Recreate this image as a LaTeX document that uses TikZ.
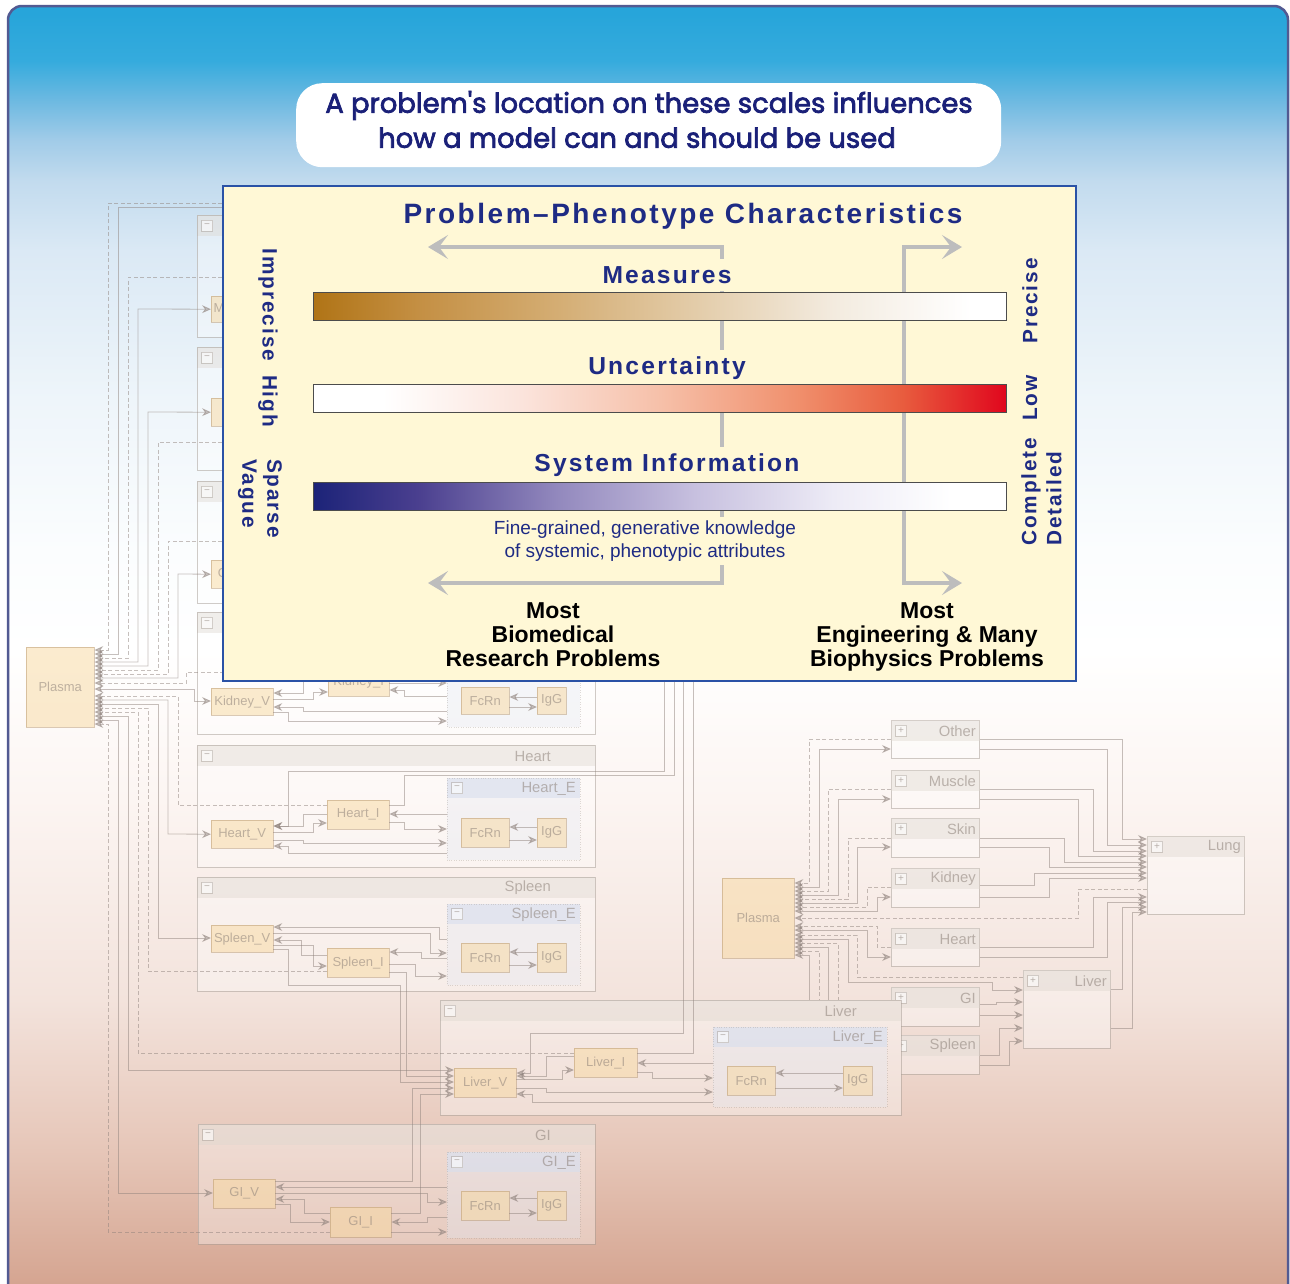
\documentclass[tikz,border=0pt]{standalone}
\usepackage{fontspec}
\setmainfont{Liberation Sans}
\newfontfamily\spc{Liberation Sans}[LetterSpace=9]
\newfontfamily\ttl{Poppins}[FakeBold=2.6]
\usetikzlibrary{arrows.meta}

\definecolor{navy}{HTML}{1E2B84}
\definecolor{ttlc}{HTML}{1A2078}
\definecolor{panelF}{HTML}{FFF8D6}
\definecolor{panelB}{HTML}{2A52A6}
\definecolor{bigG}{HTML}{BDBDBD}
\definecolor{frameC}{HTML}{525A92}
\definecolor{lnC}{HTML}{8F827C}
\definecolor{boxF}{HTML}{F8D9A0}
\definecolor{boxD}{HTML}{B89870}
\definecolor{txtC}{HTML}{8C8078}
\definecolor{cmpD}{HTML}{A39A92}
\definecolor{hdrF}{HTML}{DDD6CE}
\definecolor{subF}{HTML}{E4E8F2}
\definecolor{subH}{HTML}{D8DEEE}
% background
\definecolor{bg0}{HTML}{D29D88}
\definecolor{bg1}{HTML}{D5A591}
\definecolor{bg2}{HTML}{E6C6B8}
\definecolor{bg3}{HTML}{F3E3DC}
\definecolor{bg4}{HTML}{FCF5F2}
\definecolor{bg5}{HTML}{FBFDFE}
\definecolor{bg6}{HTML}{EEF5FA}
\definecolor{bg7}{HTML}{DBE9F5}
\definecolor{bg8}{HTML}{C2DBEE}
\definecolor{bg9}{HTML}{A0CBE8}
\definecolor{bg10}{HTML}{6CB9E1}
\definecolor{bg11}{HTML}{35ABDD}
\definecolor{bg12}{HTML}{27A5DA}
% bars
\definecolor{m0}{HTML}{B07416}
\definecolor{m1}{HTML}{C48F43}
\definecolor{m2}{HTML}{D4AD73}
\definecolor{m3}{HTML}{E3CCA9}
\definecolor{m4}{HTML}{F3EBDF}
\definecolor{u1}{HTML}{FBE4DC}
\definecolor{u2}{HTML}{F6C0A9}
\definecolor{u3}{HTML}{F08F6C}
\definecolor{u4}{HTML}{E85C3E}
\definecolor{u5}{HTML}{E0061D}
\definecolor{s0}{HTML}{1C2378}
\definecolor{s1}{HTML}{4A3F8F}
\definecolor{s2}{HTML}{9288BD}
\definecolor{s3}{HTML}{C7C0DF}
\definecolor{s4}{HTML}{EDEBF6}

\pgfdeclareverticalshading{bgshade}{100bp}{color(0bp)=(bg0); color(25bp)=(bg0); color(26bp)=(bg1); color(31.1bp)=(bg2); color(36.9bp)=(bg3); color(44.6bp)=(bg4); color(50.3bp)=(white); color(54.1bp)=(bg5); color(59.9bp)=(bg6); color(65.6bp)=(bg7); color(68.3bp)=(bg8); color(69.9bp)=(bg9); color(71.4bp)=(bg10); color(72.9bp)=(bg11); color(74.7bp)=(bg12); color(100bp)=(bg12)}
\pgfdeclarehorizontalshading{measS}{100bp}{color(0bp)=(m0); color(25bp)=(m0); color(32.5bp)=(m1); color(42.5bp)=(m2); color(52.5bp)=(m3); color(62.5bp)=(m4); color(72.5bp)=(white); color(100bp)=(white)}
\pgfdeclarehorizontalshading{uncS}{100bp}{color(0bp)=(white); color(30bp)=(white); color(40bp)=(u1); color(50bp)=(u2); color(60bp)=(u3); color(67.5bp)=(u4); color(75bp)=(u5); color(100bp)=(u5)}
\pgfdeclarehorizontalshading{sysS}{100bp}{color(0bp)=(s0); color(25bp)=(s0); color(32.5bp)=(s1); color(42.5bp)=(s2); color(52.5bp)=(s3); color(62.5bp)=(s4); color(71bp)=(white); color(100bp)=(white)}

\tikzset{
  ln/.style={draw=lnC, line width=0.8pt, opacity=0.5},
  dsh/.style={dash pattern=on 4pt off 2.5pt},
  ah/.style={-{Stealth[length=9pt,width=8pt,inset=3pt]}},
  ahh/.style={{Stealth[length=9pt,width=8pt,inset=3pt]}-{Stealth[length=9pt,width=8pt,inset=3pt]}},
  bx/.style={draw=boxD, fill=boxF, draw opacity=0.5, fill opacity=0.5, text opacity=0.55, text=txtC, inner sep=0pt, font=\fontsize{13}{13}\selectfont},
  cmpline/.style={draw=cmpD, draw opacity=0.5, line width=0.8pt},
  hdr/.style={fill=hdrF, fill opacity=0.4},
  sgn/.style={draw=cmpD, draw opacity=0.45, fill=white, fill opacity=0.6, text opacity=0.6, text=txtC, minimum size=11pt, inner sep=0pt, font=\fontsize{10}{10}\selectfont},
  ctitle/.style={text=txtC, text opacity=0.55, inner sep=0pt, font=\fontsize{14.8}{15}\selectfont},
  big/.style={draw=bigG, line width=4.5pt, -{Stealth[length=20pt,width=24pt,inset=9pt]}},
  barb/.style={draw=black!70, line width=1.2pt, shade, inner sep=0pt, anchor=north west, minimum width=693, minimum height=28},
  lab/.style={text=navy, font=\spc\bfseries\fontsize{24.6}{28}\selectfont, fill=panelF, inner xsep=6pt, inner ysep=7pt},
  rot/.style={text=navy, font=\spc\bfseries\fontsize{20.8}{25}\selectfont, inner sep=0pt},
  blk/.style={font=\bfseries\fontsize{23}{24}\selectfont, align=center, anchor=north},
}

\newcommand\bgfill{\shade[shading=bgshade] (8,6) rectangle (1288,1310);}
\newcommand\cmpt[5]{%
  \begin{scope}\clip (#1,#2) rectangle (#3,#4); \bgfill \end{scope}
  \fill[white, fill opacity=0.35] (#1,#2) rectangle (#3,#4);
  \fill[hdr] (#1,#2) rectangle (#3,#2+21);
  \draw[cmpline] (#1,#2) rectangle (#3,#4);
  \node[sgn] at (#1+10,#2+10.5) {−};
  \node[ctitle, anchor=east] at (#3-44,#2+11) {#5};
}
\newcommand\subbody[4]{%
  \fill[subF, fill opacity=0.35] (#1,#2) rectangle (#3,#4);
  \fill[subH, fill opacity=0.6] (#1,#2) rectangle (#3,#2+20);
  \draw[cmpD, draw opacity=0.35, dotted] (#1,#2) rectangle (#3,#4);
}
\newcommand\subc[5]{%
  \subbody{#1}{#2}{#3}{#4}
  \node[sgn] at (#1+10,#2+10) {−};
  \node[ctitle, anchor=east] at (#3-4,#2+10.5) {#5};
}
\newcommand\obox[6]{%
  \node[draw=cmpD, draw opacity=0.5, fill=white, fill opacity=0.35, anchor=north west, minimum width={#4-#2}, minimum height={#5-#3}, inner sep=0pt, line width=0.8pt] (#1) at (#2,#3) {};
  \fill[hdr] (#1.north west) rectangle ([yshift=-21pt]#1.north east);
  \node[sgn] at (#2+10,#3+10.5) {+};
  \node[ctitle, anchor=east] at (#4-3,#3+11) {#6};
}
\newcommand\vb[6]{\node[bx, anchor=north west, minimum width={#4-#2}, minimum height={#5-#3}] (#1) at (#2,#3) {#6};}

\begin{document}
\begin{tikzpicture}[x=1pt,y=-1pt]
\useasboundingbox (0,0) rectangle (1290,1283);
% ---------- background frame
\shade[shading=bgshade, rounded corners=14pt] (8,6) rectangle (1288,1310);
\draw[frameC, line width=2.5pt, rounded corners=14pt] (8,6) rectangle (1288,1310);

% ---------- right-hand model
\vb{pR}{722}{878}{794}{958}{Plasma}
\obox{oth}{891}{720}{979}{758}{Other}
\obox{mus}{891}{770}{979}{808}{Muscle}
\obox{skn}{891}{818}{979}{857}{Skin}
\obox{kdn}{891}{868}{979}{907}{Kidney}
\obox{hrt}{891}{928}{979}{966}{Heart}
\obox{gil}{891}{987}{979}{1026}{GI}
\obox{spl}{891}{1035}{979}{1074}{Spleen}
\obox{lng}{1147}{836}{1244}{914}{Lung}
\obox{lvs}{1023}{970}{1110}{1048}{Liver}

\draw[ln,dsh,ah] (oth.west |- 0,739) -| (809,883) -- (pR.east |- 0,883);
\draw[ln,ahh] (pR.east |- 0,887) -| (819,749) -- (oth.west |- 0,749);
\draw[ln,dsh,ah] (mus.west |- 0,789) -| (828,891) -- (pR.east |- 0,891);
\draw[ln,ahh] (pR.east |- 0,895) -| (838,799) -- (mus.west |- 0,799);
\draw[ln,dsh,ah] (skn.west |- 0,838) -| (848,899) -- (pR.east |- 0,899);
\draw[ln,ahh] (pR.east |- 0,903) -| (857,847) -- (skn.west |- 0,847);
\draw[ln,dsh,ah] (kdn.west |- 0,887) -| (867,907) -- (pR.east |- 0,907);
\draw[ln,ahh] (pR.east |- 0,911) -| (877,897) -- (kdn.west |- 0,897);
\draw[ln,dsh,ah] (lng.west |- 0,889) -| (1078,918) -- (pR.east |- 0,918);
\draw[ln,dsh,ah] (hrt.west |- 0,947) -| (877,926) -- (pR.east |- 0,926);
\draw[ln,ahh] (pR.east |- 0,930) -| (867,957) -- (hrt.west |- 0,957);
\draw[ln,dsh,ah] (lvs.west |- 0,977) -| (857,935) -- (pR.east |- 0,935);
\draw[ln,ahh] (pR.east |- 0,939) -| (848,982) -| (992,990) -- (lvs.west |- 0,990);
\draw[ln,dsh,ah] (gil.west |- 0,1006) -| (838,943) -- (pR.east |- 0,943);
\draw[ln,ahh] (pR.east |- 0,947) -| (828,1016) -- (gil.west |- 0,1016);
\draw[ln,dsh,ah] (spl.west |- 0,1054) -| (819,951) -- (pR.east |- 0,951);
\draw[ln,ahh] (pR.east |- 0,955) -| (809,1064) -- (spl.west |- 0,1064);

\draw[ln,ah] (oth.east |- 0,739) -| (1122,839) -- (lng.west |- 0,839);
\draw[ln,ah] (oth.east |- 0,749) -| (1107,845) -- (lng.west |- 0,845);
\draw[ln,ah] (mus.east |- 0,789) -| (1093,851) -- (lng.west |- 0,851);
\draw[ln,ah] (mus.east |- 0,799) -| (1078,856) -- (lng.west |- 0,856);
\draw[ln,ah] (skn.east |- 0,838) -| (1064,862) -- (lng.west |- 0,862);
\draw[ln,ah] (skn.east |- 0,847) -| (1049,867) -- (lng.west |- 0,867);
\draw[ln,ah] (kdn.east |- 0,885) -| (1034,873) -- (lng.west |- 0,873);
\draw[ln,ah] (kdn.east |- 0,897) -| (1049,878) -- (lng.west |- 0,878);
\draw[ln,ah] (hrt.east |- 0,947) -| (1093,897) -- (lng.west |- 0,897);
\draw[ln,ah] (hrt.east |- 0,957) -| (1107,902) -- (lng.west |- 0,902);
\draw[ln,ah] (lvs.east |- 0,989) -| (1122,907) -- (lng.west |- 0,907);
\draw[ln,ah] (lvs.east |- 0,1028) -| (1132,912) -- (lng.west |- 0,912);
\draw[ln,ah] (gil.east |- 0,1004) -| (996,1002) -- (lvs.west |- 0,1002);
\draw[ln,ah] (gil.east |- 0,1015) -- (lvs.west |- 0,1015);
\draw[ln,ah] (spl.east |- 0,1055) -| (999,1028) -- (lvs.west |- 0,1028);
\draw[ln,ah] (spl.east |- 0,1065) -| (1009,1041) -- (lvs.west |- 0,1041);

% ---------- left-hand model: compartments
\cmpt{197}{215}{595}{337}{}
\cmpt{197}{347}{595}{470}{}
\cmpt{197}{481}{595}{603}{}
\cmpt{197}{612}{595}{734}{}
\cmpt{197}{745}{595}{867}{Heart}
\cmpt{197}{877}{595}{991}{Spleen}
\cmpt{440}{1000}{901}{1115}{Liver}
\cmpt{198}{1124}{595}{1244}{GI}
\subbody{447}{640}{580}{727}
\subc{447}{778}{580}{860}{Heart\_E}
\subc{447}{904}{580}{985}{Spleen\_E}
\subc{713}{1027}{887}{1107}{Liver\_E}
\subc{447}{1152}{580}{1238}{GI\_E}

\vb{pL}{26}{647}{94}{727}{Plasma}
\vb{m1V}{211}{296}{273}{322}{Muscle\_V}
\vb{s2V}{211}{398}{273}{426}{Skin\_V}
\vb{o3V}{211}{560}{273}{588}{Other\_V}
\vb{kidV}{211}{688}{273}{715}{Kidney\_V}
\vb{kidI}{328}{667}{389}{696}{Kidney\_I}
\vb{kidF}{461}{687}{509}{714}{FcRn}
\vb{kidG}{537}{687}{566}{714}{IgG}
\vb{heaV}{211}{820}{273}{848}{Heart\_V}
\vb{heaI}{327}{800}{389}{829}{Heart\_I}
\vb{heaF}{461}{818}{509}{847}{FcRn}
\vb{heaG}{537}{818}{566}{847}{IgG}
\vb{spV}{211}{925}{273}{952}{Spleen\_V}
\vb{spI}{327}{948}{389}{977}{Spleen\_I}
\vb{spF}{461}{943}{509}{972}{FcRn}
\vb{spG}{537}{943}{566}{972}{IgG}
\vb{livV}{454}{1068}{516}{1097}{Liver\_V}
\vb{livI}{574}{1048}{637}{1077}{Liver\_I}
\vb{livF}{727}{1066}{775}{1095}{FcRn}
\vb{livG}{843}{1066}{872}{1095}{IgG}
\vb{giV}{213}{1179}{275}{1208}{GI\_V}
\vb{giI}{330}{1207}{391}{1237}{GI\_I}
\vb{giF}{461}{1191}{509}{1220}{FcRn}
\vb{giG}{537}{1191}{566}{1220}{IgG}

% plasma (left) up
\draw[ln,dsh,ah] (300,203) -| (108,650) -- (pL.east |- 0,650);
\draw[ln,ahh] (pL.east |- 0,654) -| (118,207) -- (300,207);
\draw[ln,dsh,ah] (300,277) -| (128,658) -- (pL.east |- 0,658);
\draw[ln,ahh] (pL.east |- 0,662) -| (138,309) -- (m1V.west);
\draw[ln,ahh] (pL.east |- 0,666) -| (148,412) -- (s2V.west);
\draw[ln,dsh,ah] (300,442) -| (158,670) -- (pL.east |- 0,670);
\draw[ln,dsh,ah] (300,541) -| (168,674) -- (pL.east |- 0,674);
\draw[ln,ahh] (pL.east |- 0,678) -| (178,574) -- (o3V.west);
\draw[ln,dsh,ah] (kidI.west |- 0,672) -| (186,683) -- (pL.east |- 0,683);
\draw[ln,ahh] (pL.east |- 0,689) -| (194,701) -- (kidV.west |- 0,701);
% plasma (left) down
\draw[ln,dsh,ah] (heaI.west |- 0,805) -| (178,696) -- (pL.east |- 0,696);
\draw[ln,ahh] (pL.east |- 0,700) -| (168,834) -- (heaV.west);
\draw[ln,ahh] (pL.east |- 0,704) -| (158,938) -- (spV.west |- 0,938);
\draw[ln,dsh,ah] (spI.west |- 0,971) -| (148,708) -- (pL.east |- 0,708);
\draw[ln,dsh,ah] (livI.west |- 0,1053) -| (138,712) -- (pL.east |- 0,712);
\draw[ln,ahh] (pL.east |- 0,716) -| (128,1070) -- (livV.west |- 0,1070);
\draw[ln,ahh] (pL.east |- 0,720) -| (118,1193) -- (giV.west |- 0,1193);
\draw[ln,dsh,ah] (giI.west |- 0,1232) -| (108,724) -- (pL.east |- 0,724);

% kidney
\draw[ln,ah] (kidV.east |- 0,699) -| (313,692) -- (kidI.west |- 0,692);
\draw[ln,ah] (303,670) |- (kidV.east |- 0,693);
\draw[ln,ah] (447,711) -| (303,707) -- (kidV.east |- 0,707);
\draw[ln,ah] (kidV.east |- 0,712) -| (288,721) -- (447,721);
\draw[ln,ah] (447,696) -| (404,690) -- (kidI.east |- 0,690);
\draw[ln,ah] (kidI.east |- 0,683) -- (447,683);
\draw[ln,ah] (kidG.west |- 0,697) -- (kidF.east |- 0,697);
\draw[ln,ah] (kidF.east |- 0,707) -- (kidG.west |- 0,707);
% heart
\draw[ln,ah] (664,670) |- (288,771) |- (heaV.east |- 0,826);
\draw[ln] (heaI.east |- 0,805) -| (404,775) -| (674,670);
\draw[ln,ah] (heaV.east |- 0,832) -| (313,823) -- (heaI.west |- 0,823);
\draw[ln,ah] (heaI.west |- 0,814) -| (303,826) -- (heaV.east |- 0,826);
\draw[ln,ah] (heaV.east |- 0,840) -| (303,843) -- (447,843);
\draw[ln,ah] (447,853) -| (288,846) -- (heaV.east |- 0,846);
\draw[ln,ah] (447,814) -- (heaI.east |- 0,814);
\draw[ln,ah] (heaI.east |- 0,822) -| (404,829) -- (447,829);
\draw[ln,ah] (heaG.west |- 0,827) -- (heaF.east |- 0,827);
\draw[ln,ah] (heaF.east |- 0,840) -- (heaG.west |- 0,840);
% spleen
\draw[ln,ah] (447,939) -| (439,927) -- (spV.east |- 0,927);
\draw[ln,ah] (spV.east |- 0,933) -| (430,953) -- (447,953);
\draw[ln,ah] (spI.west |- 0,955) -| (301,940) -- (spV.east |- 0,940);
\draw[ln,ah] (spV.east |- 0,945) -| (313,966) -- (spI.west |- 0,966);
\draw[ln,ah] (447,958) -| (421,952) -- (spI.east |- 0,952);
\draw[ln,ah] (spI.east |- 0,964) -| (415,976) -- (447,976);
\draw[ln,ah] (spV.east |- 0,949) -| (288,985) -| (400,1082) -- (livV.west |- 0,1082);
\draw[ln,ah] (spI.east |- 0,972) -| (406,1076) -- (livV.west |- 0,1076);
\draw[ln,ah] (spG.west |- 0,952) -- (spF.east |- 0,952);
\draw[ln,ah] (spF.east |- 0,965) -- (spG.west |- 0,965);
% GI
\draw[ln,ah] (giV.east |- 0,1181) -| (412,1088) -- (livV.west |- 0,1088);
\draw[ln,ah] (giI.east |- 0,1213) -| (420,1094) -- (livV.west |- 0,1094);
\draw[ln,ah] (447,1187) -- (giV.east |- 0,1187);
\draw[ln,ah] (giV.east |- 0,1193) -| (427,1202) -- (447,1202);
\draw[ln,ah] (giI.west |- 0,1213) -| (304,1199) -- (giV.east |- 0,1199);
\draw[ln,ah] (giV.east |- 0,1204) -| (290,1222) -- (giI.west |- 0,1222);
\draw[ln,ah] (447,1217) -| (427,1222) -- (giI.east |- 0,1222);
\draw[ln,ah] (giI.east |- 0,1232) -- (447,1232);
\draw[ln,ah] (giG.west |- 0,1198) -- (giF.east |- 0,1198);
\draw[ln,ah] (giF.east |- 0,1213) -- (giG.west |- 0,1213);
% liver
\draw[ln,ah] (683,670) |- (530,1033) |- (livV.east |- 0,1073);
\draw[ln] (livI.east |- 0,1053) -| (693,670);
\draw[ln,ah] (livV.east |- 0,1079) -| (562,1070) -- (livI.west |- 0,1070);
\draw[ln,ah] (livI.west |- 0,1056) -| (546,1076) -- (livV.east |- 0,1076);
\draw[ln,ah] (livV.east |- 0,1088) -| (546,1092) -- (713,1092);
\draw[ln,ah] (713,1102) -| (532,1094) -- (livV.east |- 0,1094);
\draw[ln,ah] (713,1063) -- (livI.east |- 0,1063);
\draw[ln,ah] (livI.east |- 0,1072) -| (652,1078) -- (713,1078);
\draw[ln,ah] (livG.west |- 0,1073) -- (livF.east |- 0,1073);
\draw[ln,ah] (livF.east |- 0,1088) -- (livG.west |- 0,1088);

% ---------- title box
\node[fill=white, rounded corners=26pt, anchor=north west, minimum width=705, minimum height=84, inner sep=0pt] (tbox) at (296,83) {};
\node[text=ttlc, font=\ttl\fontsize{27.4}{35}\selectfont, align=center] (ttl) at (649,119.5) {A problem's location on these scales influences\\how a model can and should be used\hspace*{24pt}};

% ---------- panel
\node[draw=panelB, line width=2pt, fill=panelF, anchor=north west, minimum width=853, minimum height=495, inner sep=0pt] (panel) at (222,185) {};
\node[text=navy, font=\spc\bfseries\fontsize{28}{30}\selectfont] (head) at (683,216) {Problem–Phenotype Characteristics};

\coordinate (gT) at (722,247); \coordinate (gB) at (722,583);
\coordinate (gL1) at (428,247); \coordinate (gL2) at (428,583);
\coordinate (rT) at (904,247); \coordinate (rB) at (904,583);
\coordinate (rR1) at (962,247); \coordinate (rR2) at (962,583);
\draw[big] (gB) -- (gT) -- (gL1);
\draw[big] (gT) -- (gB) -- (gL2);
\draw[big] (rB) -- (rT) -- (rR1);
\draw[big] (rT) -- (rB) -- (rR2);

\node[lab] (lm) at (667,275) {Measures};
\node[lab] (lu) at (667,368) {Uncertainty};
\node[lab] (ls) at (667,465) {System Information};
\node[text=navy, font=\fontsize{19}{23}\selectfont, align=center, fill=panelF, inner ysep=4pt] (fine) at (645,541) {Fine-grained, generative knowledge\\of systemic, phenotypic attributes};

\node[barb, shading=measS] (mbar) at (313,292) {};
\node[barb, shading=uncS] (ubar) at (313,384) {};
\node[barb, shading=sysS] (sbar) at (313,482) {};

\node[blk] (bio) at (553,599) {Most\\Biomedical\\Research Problems};
\node[blk] (eng) at (927,599) {Most\\Engineering \& Many\\Biophysics Problems};

\node[rot, rotate=-90] (impr) at (268,305) {Imprecise};
\node[rot, rotate=-90] (high) at (268,401) {High};
\node[rot, rotate=-90, align=left, anchor=north west] (spv) at (282,459) {Sparse\\Vague};
\node[rot, rotate=90] (prec) at (1030,301) {Precise};
\node[rot, rotate=90] (low) at (1030,398) {Low};
\node[rot, rotate=90, align=left, anchor=north west] (cd) at (1021,546) {Complete\\Detailed};
\end{tikzpicture}
\end{document}
